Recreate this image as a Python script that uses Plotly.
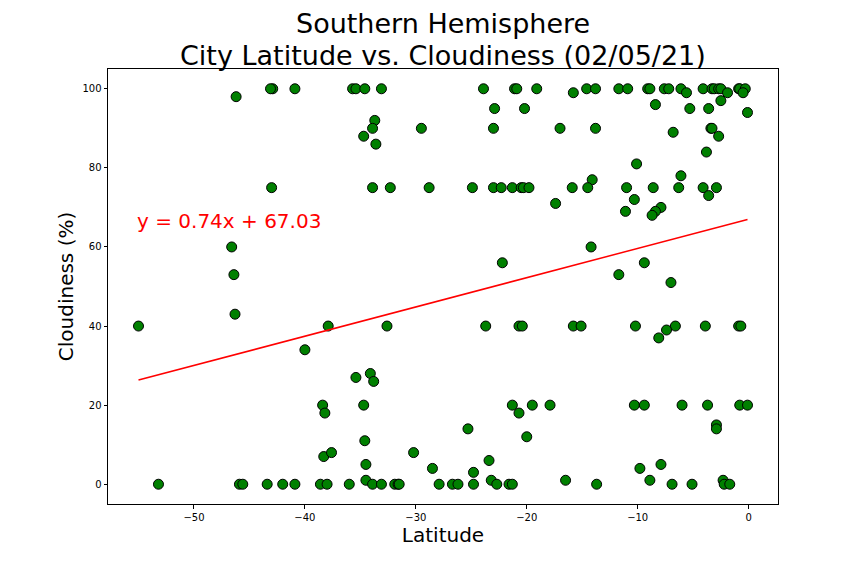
import numpy as np
import plotly.graph_objects as go

# ---- data ----
latitude = [
    -46.2, -42.9, -43.1, -40.9, -43.0, -46.6, -46.4, -55.0, -46.3, -37.9,
    -40.0, -38.4, -38.2, -38.3, -37.6, -53.2, -45.9, -45.6, -43.4, -42.0,
    -40.9, -38.6, -38.0, -35.7, -35.4, -34.6, -33.1, -23.9, -21.1, -20.9,
    -19.1, -22.9, -20.2, -33.7, -33.9, -34.7, -33.6, -29.5, -23.0, -17.0,
    -33.9, -32.3, -28.8, -24.9, -23.0, -22.3, -21.3, -20.5, -20.3, -19.8,
    -17.4, -22.2, -32.6, -23.7, -20.7, -20.4, -35.4, -34.1, -33.8, -34.7,
    -34.6, -34.5, -34.5, -30.2, -28.5, -25.3, -23.4, -24.8, -23.2, -21.3,
    -19.5, -17.9, -20.7, -20.0, -36.0, -33.9, -33.1, -31.9, -31.6, -31.5,
    -27.9, -26.7, -26.2, -24.8, -22.7, -21.6, -21.3, -15.8, -14.6, -13.8,
    -11.7, -10.9, -9.1, -8.9, -7.6, -7.2, -6.1, -4.1, -3.3, -3.1,
    -2.7, -2.5, -0.9, -0.8, -0.3, -5.6, -1.9, -0.5, -2.5, -8.4,
    -5.3, -3.6, -0.1, -13.8, -6.8, -3.4, -3.3, -2.7, -3.8, -10.1,
    -6.1, -14.1, -15.9, -14.5, -11.0, -8.6, -6.3, -4.1, -2.9, -3.6,
    -10.3, -11.1, -7.9, -8.4, -8.7, -14.2, -9.4, -11.7, -7.0, -15.8,
    -15.1, -10.2, -6.6, -3.9, -0.9, -0.7, -7.4, -8.1, -10.3, -9.4,
    -6.0, -3.7, -0.8, -0.1, -2.9, -2.9, -9.8, -7.9, -16.5, -8.9,
    -2.3, -13.7, -6.9, -5.1, -2.2, -1.7,
]
cloudiness = [
    98, 100, 100, 100, 75, 60, 53, 40, 43, 40,
    34, 20, 18, 7, 8, 0, 0, 0, 0, 0,
    0, 0, 0, 100, 100, 100, 100, 100, 100, 100,
    100, 95, 95, 92, 90, 88, 86, 90, 90, 90,
    75, 75, 75, 75, 75, 75, 75, 75, 75, 75,
    71, 56, 40, 40, 40, 40, 27, 28, 26, 20,
    11, 5, 1, 8, 4, 14, 6, 3, 1, 20,
    20, 20, 18, 12, 0, 0, 0, 0, 0, 0,
    0, 0, 0, 0, 0, 0, 0, 99, 100, 100,
    100, 100, 100, 100, 100, 100, 100, 100, 100, 100,
    100, 100, 100, 100, 100, 99, 99, 99, 97, 96,
    95, 95, 94, 90, 89, 90, 90, 88, 84, 81,
    78, 77, 75, 75, 75, 75, 75, 75, 75, 73,
    72, 69, 70, 69, 68, 60, 56, 53, 51, 40,
    40, 40, 40, 40, 40, 40, 39, 37, 20, 20,
    20, 20, 20, 20, 15, 14, 4, 5, 1, 1,
    1, 0, 0, 0, 0, 0,
]
slope = 0.74
intercept = 67.03
equation_label = "y = 0.74x + 67.03"
equation_pos = (-55, 65)
x_ticks = [-50, -40, -30, -20, -10, 0]
y_ticks = [0, 20, 40, 60, 80, 100]

# regression line evaluated at the data's latitudes
line_x = np.sort(np.array(latitude))
line_y = slope * line_x + intercept

FONT = "DejaVu Sans"

fig = go.Figure()
fig.add_trace(go.Scatter(
    x=latitude, y=cloudiness, mode="markers",
    marker=dict(size=10, color="#008000", line=dict(color="black", width=1)),
    showlegend=False,
))
fig.add_trace(go.Scatter(
    x=line_x, y=line_y, mode="lines",
    line=dict(color="#ff0000", width=1.5),
    showlegend=False,
))

fig.add_annotation(
    x=equation_pos[0], y=equation_pos[1], xref="x", yref="y",
    text=equation_label, showarrow=False, xanchor="left", yanchor="bottom",
    xshift=-4, yshift=-8, font=dict(family=FONT, size=20, color="#ff0000"),
)
fig.add_annotation(
    x=0.5, y=1, xref="paper", yref="paper", text="Southern Hemisphere",
    showarrow=False, xanchor="center", yanchor="bottom", yshift=27.6,
    font=dict(family=FONT, size=27, color="black"),
)
fig.add_annotation(
    x=0.5, y=1, xref="paper", yref="paper",
    text="City Latitude vs. Cloudiness (02/05/21)",
    showarrow=False, xanchor="center", yanchor="bottom", yshift=-3.7,
    font=dict(family=FONT, size=27, color="black"),
)

axis_common = dict(
    showline=True, linecolor="black", linewidth=1, mirror=True,
    ticks="outside", ticklen=3.5, tickwidth=0.8, tickcolor="black",
    showgrid=False, zeroline=False,
    tickfont=dict(family=FONT, size=10, color="black"),
)
fig.update_xaxes(
    range=[-57.75, 2.65], tickvals=x_ticks,
    title=dict(text="Latitude", font=dict(family=FONT, size=20, color="black"), standoff=6),
    **axis_common,
)
fig.update_yaxes(
    range=[-5, 105], tickvals=y_ticks,
    title=dict(text="Cloudiness (%)", font=dict(family=FONT, size=20, color="black"), standoff=3),
    **axis_common,
)
fig.update_layout(
    width=864, height=576,
    margin=dict(l=100, r=94, t=61, b=80, autoexpand=False),
    paper_bgcolor="white", plot_bgcolor="white",
    font=dict(family=FONT, color="black"),
)
fig.write_html("out.html")
